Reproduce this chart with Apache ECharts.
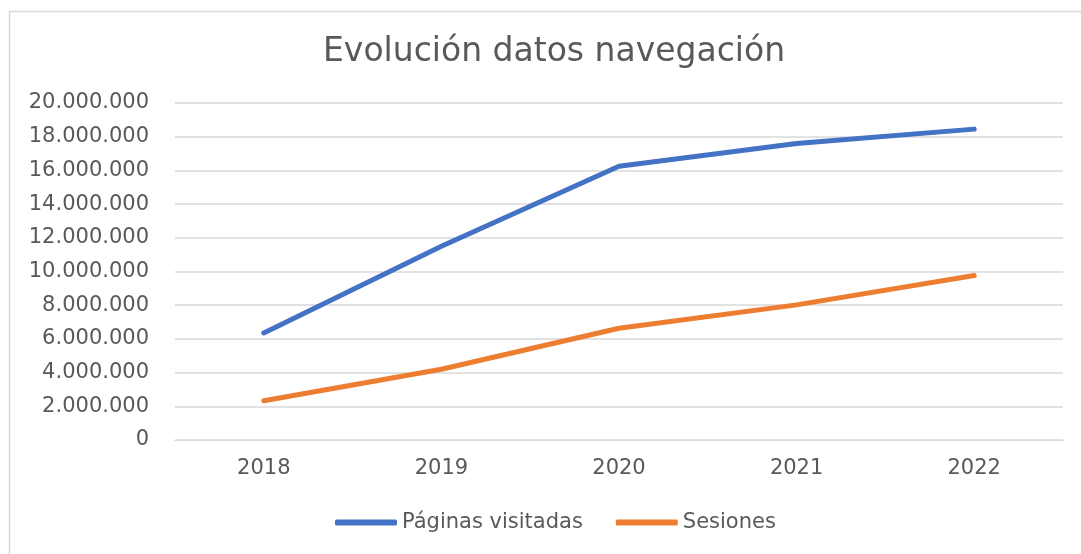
<!DOCTYPE html>
<html>
<head>
<meta charset="utf-8">
<title>Evolución datos navegación</title>
<script src="https://cdn.jsdelivr.net/npm/echarts@6/dist/echarts.min.js"></script>
<style>
    html, body { margin: 0; padding: 0; background: #fff; }
    #chart { width: 1081px; height: 554px; }
</style>
</head>
<body>
<div id="chart"></div>
<script>
// datos
var years = ['2018', '2019', '2020', '2021', '2022'];
var paginasVisitadas = [6350000, 11500000, 16250000, 17600000, 18450000];
var sesiones = [2330000, 4200000, 6630000, 8020000, 9760000];
var yTicks = [0, 2000000, 4000000, 6000000, 8000000, 10000000, 12000000, 14000000, 16000000, 18000000, 20000000];

var textColor = '#595959';
var gridColor = '#d9d9d9';
var font = 'DejaVu Sans';

// separador de miles con punto
function fmt(v) {
    return String(v).replace(/\B(?=(\d{3})+(?!\d))/g, '.');
}

var myChart = echarts.init(document.getElementById('chart'));

var lineStyle = function (color) {
    return {
        color: color,
        width: 5,
        cap: 'round',
        join: 'round'
    };
};

var option = {
    animation: false,
    backgroundColor: '#fff',
    color: ['#4472C4', '#ED7D31'],
    title: {
        text: 'Evolución datos navegación',
        left: 318,
        top: 31,
        textStyle: {
            color: textColor,
            fontFamily: font,
            fontSize: 33,
            fontWeight: 'normal'
        }
    },
    legend: {
        left: 330,
        top: 507,
        itemWidth: 62,
        itemHeight: 6,
        itemGap: 33,
        icon: 'roundRect',
        textStyle: {
            color: textColor,
            fontFamily: font,
            fontSize: 21
        },
        data: ['Páginas visitadas', 'Sesiones']
    },
    grid: {
        left: 175,
        right: 18,
        top: 103,
        bottom: 114
    },
    xAxis: {
        type: 'category',
        data: years,
        boundaryGap: true,
        axisLine: { lineStyle: { color: gridColor, width: 1 } },
        axisTick: { show: false },
        axisLabel: {
            color: textColor,
            fontFamily: font,
            fontSize: 21,
            margin: 18
        }
    },
    yAxis: {
        type: 'value',
        min: yTicks[0],
        max: yTicks[yTicks.length - 1],
        interval: yTicks[1] - yTicks[0],
        axisLine: { show: false },
        axisTick: { show: false },
        splitLine: { lineStyle: { color: gridColor, width: 1.5 } },
        axisLabel: {
            color: textColor,
            fontFamily: font,
            fontSize: 21,
            margin: 26,
            formatter: fmt
        }
    },
    graphic: [{
        type: 'rect',
        left: 7,
        top: 9,
        shape: { width: 1200, height: 700 },
        style: { fill: 'none', stroke: gridColor, lineWidth: 1.5 },
        silent: true
    }],
    series: [
        {
            name: 'Páginas visitadas',
            type: 'line',
            symbol: 'none',
            lineStyle: lineStyle('#4472C4'),
            data: paginasVisitadas
        },
        {
            name: 'Sesiones',
            type: 'line',
            symbol: 'none',
            lineStyle: lineStyle('#ED7D31'),
            data: sesiones
        }
    ]
};

myChart.setOption(option);
</script>
</body>
</html>
